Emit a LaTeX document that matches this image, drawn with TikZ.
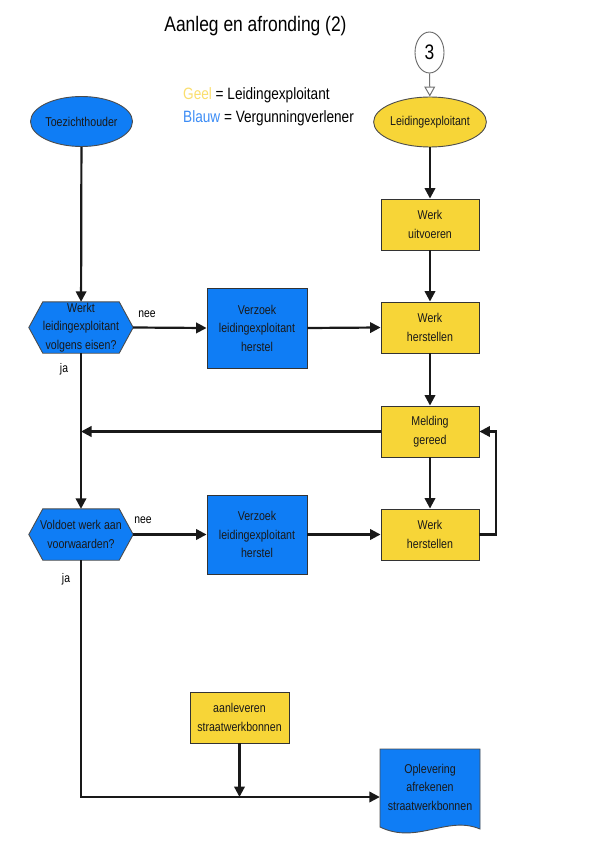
\documentclass[tikz,border=0pt]{standalone}
\usepackage{fontspec}
\setmainfont{Liberation Sans}[FakeStretch=0.83]
\usetikzlibrary{arrows.meta,shapes.geometric,backgrounds}
\definecolor{fblue}{RGB}{15,125,245}
\definecolor{fyel}{RGB}{247,213,55}
\definecolor{lgyel}{RGB}{250,222,110}
\definecolor{lgblue}{RGB}{60,140,245}
\begin{document}
\begin{tikzpicture}[x=1pt,y=-1pt,
  txt/.style={font=\fontsize{12.8}{18.5}\selectfont, align=center, text=black!90},
  ybox/.style={txt, draw=black!80, line width=0.9pt, fill=fyel, minimum width=98pt, minimum height=51pt, inner sep=0pt},
  bbox/.style={txt, draw=black!80, line width=0.9pt, fill=fblue, minimum width=100pt, minimum height=80pt, inner sep=0pt},
  oval/.style={txt, ellipse, draw=black!70, line width=0.9pt, minimum width=102pt, minimum height=50pt, inner sep=0pt},
  hexa/.style={txt, minimum width=104pt, minimum height=51pt, inner sep=0pt},
  hexfill/.style={fill=fblue, draw=black!70, line width=0.9pt},
  flow/.style={line width=2.2pt, draw=black!90, -{Triangle[length=10.5pt,width=10.5pt]}},
  lab/.style={font=\fontsize{12.5}{14}\selectfont, inner sep=0pt}
]
\useasboundingbox (0,0) rectangle (590,845);

% title and legend
\node[font=\fontsize{21}{24}\selectfont] (title) at (255.5,26) {Aanleg en afronding (2)};
\node[font=\fontsize{16.4}{23}\selectfont, align=left, anchor=west, inner sep=0pt] (legend) at (183,106.5)
  {{\color{lgyel}Geel} = Leidingexploitant\\{\color{lgblue}Blauw} = Vergunningverlener};

% start nodes
\node[ellipse, draw=black!60, line width=0.9pt, fill=white, minimum width=29pt, minimum height=41pt, inner sep=0pt, font=\fontsize{21}{24}\selectfont] (c3) at (429.5,52.5) {3};
\node[oval, fill=fyel] (lex) at (430,122) {Leidingexploitant};
\node[oval, fill=fblue] (toez) at (81.5,121.5) {Toezichthouder};

% right column
\node[ybox] (uitv) at (430,224.5) {Werk\\uitvoeren};
\node[ybox] (herst1) at (430,327.5) {Werk\\herstellen};
\node[ybox] (meld) at (430,431.5) {Melding\\gereed};
\node[ybox] (herst2) at (430,534.5) {Werk\\herstellen};

% middle column
\node[bbox] (verz1) at (257,328) {Verzoek\\leidingexploitant\\herstel};
\node[bbox, minimum height=79pt] (verz2) at (257,534.5) {Verzoek\\leidingexploitant\\herstel};

% decisions
\node[hexa] (dec1) at (81,327.5) {Werkt\\leidingexploitant\\volgens eisen?};
\node[hexa] (dec2) at (81,534.5) {Voldoet werk aan\\voorwaarden?};
\begin{pgfonlayer}{background}
  \foreach \d in {dec1,dec2}{
    \path[hexfill] (\d.west) -- ([xshift=14pt]\d.north west) -- ([xshift=-14pt]\d.north east) -- (\d.east)
      -- ([xshift=-14pt]\d.south east) -- ([xshift=14pt]\d.south west) -- cycle;
  }
\end{pgfonlayer}

% bottom
\node[ybox, minimum width=99pt] (aanl) at (239.5,717.5) {aanleveren\\straatwerkbonnen};
\node[txt, minimum width=100pt, minimum height=76pt, inner sep=0pt] (opl) at (430,787) {Oplevering\\afrekenen\\straatwerkbonnen};
\begin{pgfonlayer}{background}
  \path[fill=fblue, draw=black!70, line width=0.9pt] (380,749) -- (480,749) -- (480,829)
    .. controls (447,815) and (417,845) .. (380,827) -- cycle;
\end{pgfonlayer}

% labels
\node[lab] (nee1) at (147,314) {nee};
\node[lab] (ja1) at (64,369) {ja};
\node[lab] (nee2) at (143,520) {nee};
\node[lab] (ja2) at (66,579) {ja};

% connectors
\draw[draw=black!55, line width=1pt, -{Triangle[open,length=10pt,width=11pt]}] (c3) -- (lex);
\draw[flow] (lex) -- (uitv);
\draw[flow] (uitv) -- (herst1);
\draw[flow] (herst1) -- (meld);
\draw[flow] (meld) -- (herst2);
\draw[flow] (toez) -- (dec1);
\draw[flow] (dec1) -- (dec2);
\draw[flow] (dec1.east) -- (verz1.west);
\draw[flow] (verz1.east) -- (herst1.west);
\draw[flow] (dec2.east) -- (verz2.west);
\draw[flow] (verz2.east) -- (herst2.west);
\coordinate (loopx) at (496,0);
\draw[flow] (herst2.east) -- (herst2.east -| loopx) -- (meld.east -| loopx) -- (meld.east);
\draw[flow] (meld.west) -- (meld.west -| dec1.south);
\coordinate (bend) at (81,797);
\draw[flow] (dec2.south) -- (bend) -- (bend -| opl.west);
\draw[flow] (aanl.south) -- (aanl.south |- bend);
\end{tikzpicture}
\end{document}
